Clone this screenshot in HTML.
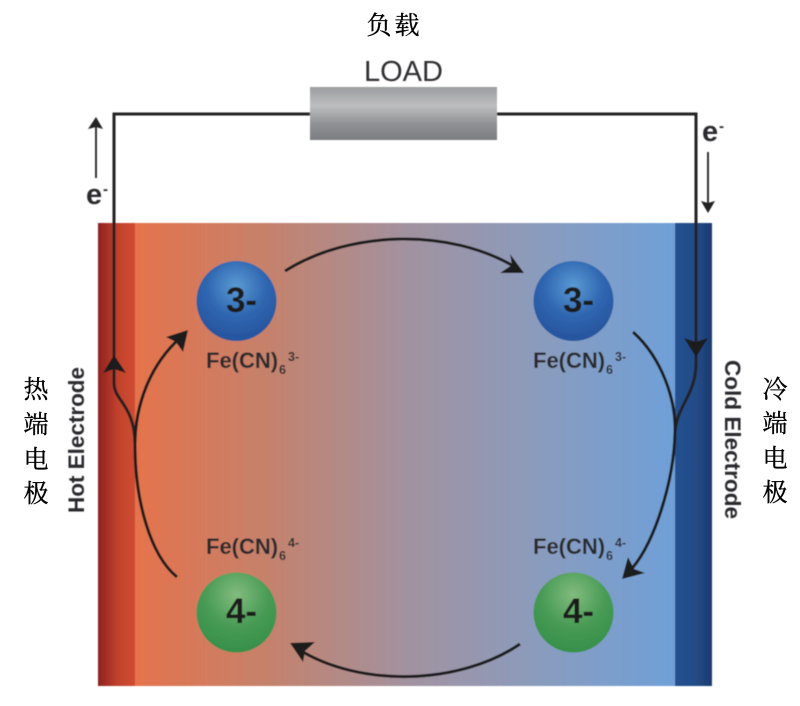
<!DOCTYPE html>
<html>
<head>
<meta charset="utf-8">
<style>
html,body{margin:0;padding:0;background:#fff;width:800px;height:706px;overflow:hidden}
svg{display:block}
.f{font-family:"Liberation Sans",sans-serif;font-weight:bold;fill:#2b2b2d}
.c{font-family:"Liberation Serif","Noto Serif CJK SC",serif;font-size:25px;fill:#000;stroke:#000;stroke-width:.35px;text-anchor:middle}
.n{font-family:"Liberation Sans",sans-serif;font-weight:bold;font-size:35px;fill:#1c1c1c;text-anchor:middle}
</style>
</head>
<body>
<svg width="800" height="706" viewBox="0 0 800 706" xmlns="http://www.w3.org/2000/svg">
<defs>
<linearGradient id="main" x1="0" x2="1" y1="0" y2="0">
<stop offset="0" stop-color="#e5734c"/>
<stop offset=".25" stop-color="#c4826c"/>
<stop offset=".5" stop-color="#a2929f"/>
<stop offset=".75" stop-color="#8a9cbd"/>
<stop offset="1" stop-color="#6fa0d8"/>
</linearGradient>
<linearGradient id="lb" x1="0" x2="1" y1="0" y2="0">
<stop offset="0" stop-color="#8e2220"/>
<stop offset=".55" stop-color="#c2422d"/>
<stop offset="1" stop-color="#cf4c31"/>
</linearGradient>
<linearGradient id="rb" x1="0" x2="1" y1="0" y2="0">
<stop offset="0" stop-color="#25518f"/>
<stop offset=".55" stop-color="#234c88"/>
<stop offset="1" stop-color="#1c3b70"/>
</linearGradient>
<linearGradient id="res" x1="0" x2="0" y1="0" y2="1">
<stop offset="0" stop-color="#9c9da0"/>
<stop offset=".35" stop-color="#bdbec0"/>
<stop offset=".7" stop-color="#8f9194"/>
<stop offset="1" stop-color="#7b7d80"/>
</linearGradient>
<radialGradient id="blue" cx=".5" cy=".32" r=".62">
<stop offset="0" stop-color="#5a9ad4"/>
<stop offset=".6" stop-color="#2f66b0"/>
<stop offset="1" stop-color="#2857a0"/>
</radialGradient>
<radialGradient id="green" cx=".5" cy=".28" r=".68">
<stop offset="0" stop-color="#82bb7e"/>
<stop offset=".6" stop-color="#479a54"/>
<stop offset="1" stop-color="#39914c"/>
</radialGradient>
<filter id="b" x="-5%" y="-5%" width="110%" height="110%"><feGaussianBlur stdDeviation="0.5"/></filter>
</defs>
<g filter="url(#b)">
<rect x="135" y="223" width="540" height="463" fill="url(#main)"/>
<rect x="98" y="223" width="37" height="463" fill="url(#lb)"/>
<rect x="675" y="223" width="37" height="463" fill="url(#rb)"/>

<rect x="310" y="87" width="187" height="53" fill="url(#res)"/>
<path d="M310,114H114V383C114,401 135,405 135,445" fill="none" stroke="#222" stroke-width="3"/>
<path d="M497,114H696V363C696,395 677,405 675,432" fill="none" stroke="#222" stroke-width="3"/>
<path d="M114,355L126,373L114,369L103,373Z" fill="#1e1e1e"/>
<path d="M696,357L684,338L696,342L708,338Z" fill="#1e1e1e"/>

<path d="M177,577C150,555 135,500 135,445C135,405 150,365 180,338" fill="none" stroke="#1e1e1e" stroke-width="3"/>
<path d="M188,330L166,337L176,342L183,352Z" fill="#1e1e1e"/>
<path d="M285,271C350,230 450,228 515,267" fill="none" stroke="#1e1e1e" stroke-width="3"/>
<path d="M524,273L510,254L512,265L500,273Z" fill="#1e1e1e"/>
<path d="M633,332C662,358 676,400 675,432C674,480 655,545 628,573" fill="none" stroke="#1e1e1e" stroke-width="3"/>
<path d="M622,579L645,573L634,569L628,557Z" fill="#1e1e1e"/>
<path d="M520,644C460,685 360,688 298,649" fill="none" stroke="#1e1e1e" stroke-width="3"/>
<path d="M290,643L303,662L305,651L315,642Z" fill="#1e1e1e"/>

<path d="M96,178V125" stroke="#222" stroke-width="1.8" fill="none"/>
<path d="M96,117L103,129L96,127L88,129Z" fill="#222"/>
<path d="M708,152V205" stroke="#222" stroke-width="1.8" fill="none"/>
<path d="M708,213L701,201L708,203L715,201Z" fill="#222"/>

<circle cx="236.500" cy="301" r="40" fill="url(#blue)"/>
<circle cx="573.500" cy="301" r="40" fill="url(#blue)"/>
<circle cx="236.500" cy="612.500" r="40" fill="url(#green)"/>
<circle cx="573.500" cy="612.500" r="40" fill="url(#green)"/>
<text class="n" x="241.500" y="312">3-</text>
<text class="n" x="578.500" y="312">3-</text>
<text class="n" x="241.500" y="623">4-</text>
<text class="n" x="578.500" y="623">4-</text>

<text x="364" y="81" font-family="'Liberation Sans',sans-serif" font-size="29" fill="#2f2f31">LOAD</text>

<text class="f" x="86" y="204" font-size="29">e</text>
<text class="f" x="103" y="194" font-size="15">-</text>
<text class="f" x="702" y="141" font-size="29">e</text>
<text class="f" x="719" y="131" font-size="15">-</text>

<text class="f" x="206" y="368" font-size="22">Fe(CN)</text><text class="f" x="279" y="374" font-size="12.500">6</text><text class="f" x="288" y="361" font-size="12.500">3-</text>
<text class="f" x="533" y="368" font-size="22">Fe(CN)</text><text class="f" x="606" y="374" font-size="12.500">6</text><text class="f" x="615" y="361" font-size="12.500">3-</text>
<text class="f" x="206" y="554" font-size="22">Fe(CN)</text><text class="f" x="279" y="560" font-size="12.500">6</text><text class="f" x="288" y="547" font-size="12.500">4-</text>
<text class="f" x="533" y="554" font-size="22">Fe(CN)</text><text class="f" x="606" y="560" font-size="12.500">6</text><text class="f" x="615" y="547" font-size="12.500">4-</text>

<text class="f" font-size="22.500" transform="translate(84,513) rotate(-90)" textLength="146" lengthAdjust="spacingAndGlyphs">Hot Electrode</text>
<text class="f" font-size="22.500" transform="translate(725,360) rotate(90)" textLength="159" lengthAdjust="spacingAndGlyphs">Cold Electrode</text>
</g>

<text class="c" x="379" y="34">负</text>
<text class="c" x="407" y="34">载</text>
<text class="c" x="36" y="398">热</text>
<text class="c" x="36" y="433">端</text>
<text class="c" x="36" y="468">电</text>
<text class="c" x="36" y="502">极</text>
<text class="c" x="775" y="398">冷</text>
<text class="c" x="775" y="432">端</text>
<text class="c" x="775" y="467">电</text>
<text class="c" x="775" y="501">极</text>
</svg>
</body>
</html>
